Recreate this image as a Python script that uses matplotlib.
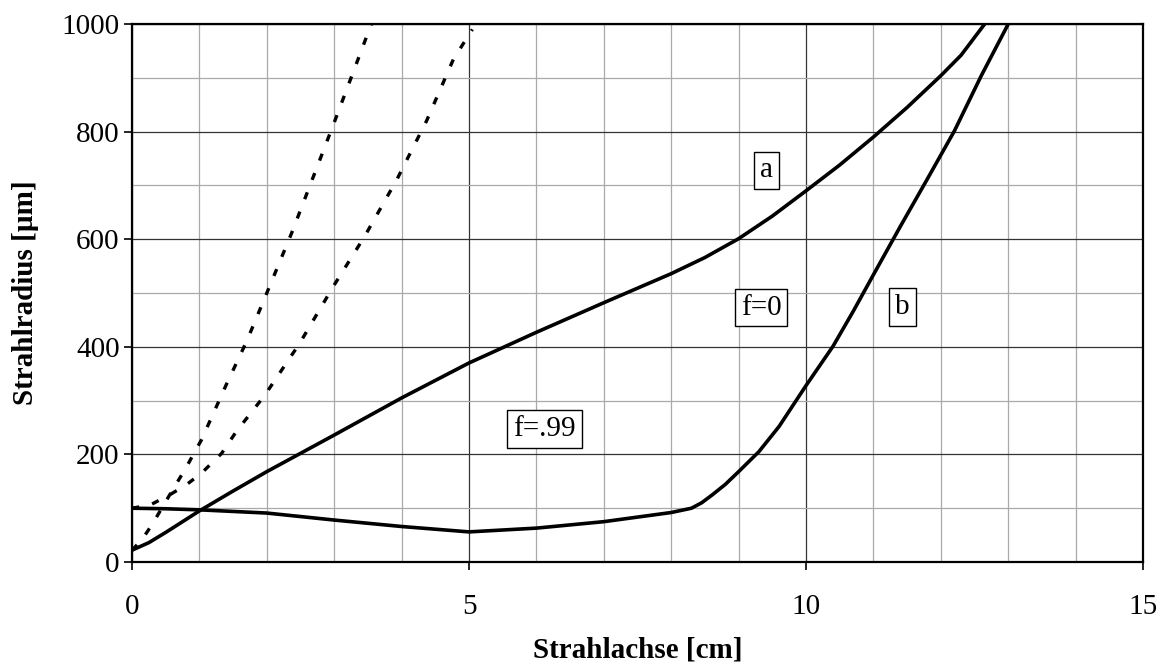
import matplotlib.pyplot as plt
from matplotlib.ticker import MultipleLocator

plt.rcParams['font.family'] = ['Liberation Serif', 'DejaVu Serif']

# curve f=0 (a), solid
xa = [0, 0.25, 0.5, 1, 1.5, 2, 3, 4, 5, 6, 7, 8, 8.5, 9, 9.5, 10, 10.5, 11, 11.5, 12, 12.3, 12.65]
ya = [22, 36, 55, 95, 132, 168, 236, 305, 370, 427, 482, 536, 566, 601, 643, 690, 738, 790, 845, 904, 942, 1000]

# curve f=.99 (b), solid
xb = [0, 0.5, 1, 2, 3, 4, 5, 6, 7, 8, 8.3, 8.45, 8.6, 8.8, 9, 9.3, 9.6, 10, 10.4, 10.7,
      11, 11.4, 11.8, 12.2, 12.6, 13]
yb = [100, 99, 97, 91, 78, 66, 56, 63, 75, 92, 100, 110, 124, 144, 168, 205, 252, 328, 401, 466,
      534, 624, 712, 801, 904, 1000]

# dashed curves
xc = [0, 0.15, 0.3, 0.56, 0.8, 1.03, 1.4, 1.7, 2.0, 2.37, 3.0, 3.56]
yc = [22, 42, 70, 125, 175, 227, 330, 410, 500, 612, 817, 1003]

xd = [0, 0.27, 0.56, 0.8, 1.03, 1.33, 1.55, 1.97, 2.49, 2.99, 3.45, 3.93, 4.37, 4.77, 5.05]
yd = [100, 106, 125, 143, 165, 202, 243, 310, 407, 513, 605, 711, 820, 935, 990]

labels = ['a', 'f=0', 'b', 'f=.99']
label_x = [9.41, 9.33, 11.43, 6.12]
label_y = [728, 473, 474, 247]

fig = plt.figure(figsize=(11.62, 6.67), dpi=100)
ax = fig.add_axes([0.1136, 0.1574, 0.8701, 0.8066])

ax.plot(xa, ya, color='black', lw=2.6, solid_joinstyle='round')
ax.plot(xb, yb, color='black', lw=2.6, solid_joinstyle='round')
ax.plot(xc, yc, color='black', lw=2.4, linestyle=(0, (2.2, 4.0)))
ax.plot(xd, yd, color='black', lw=2.4, linestyle=(0, (2.2, 4.0)))

for t, lx, ly in zip(labels, label_x, label_y):
    ax.text(lx, ly, t, fontsize=21, ha='center', va='center',
            bbox=dict(boxstyle='square,pad=0.2', fc='white', ec='black', lw=1))

ax.set_xlim(0, 15)
ax.set_ylim(0, 1000)
ax.xaxis.set_major_locator(MultipleLocator(5))
ax.xaxis.set_minor_locator(MultipleLocator(1))
ax.yaxis.set_major_locator(MultipleLocator(200))
ax.yaxis.set_minor_locator(MultipleLocator(100))
ax.grid(which='major', color='#333333', lw=0.9)
ax.grid(which='minor', color='#aaaaaa', lw=0.9)
ax.set_axisbelow(True)
ax.tick_params(which='major', direction='out', length=6, width=1.2, labelsize=21, pad=3)
ax.tick_params(axis='x', which='major', pad=17)
ax.tick_params(which='minor', length=0)
for s in ax.spines.values():
    s.set_linewidth(1.6)

ax.set_xlabel('Strahlachse [cm]', fontsize=21, fontweight='bold', labelpad=12)
ax.set_ylabel('Strahlradius [µm]', fontsize=21, fontweight='bold', labelpad=16)

fig.savefig('out.png', dpi=100)
